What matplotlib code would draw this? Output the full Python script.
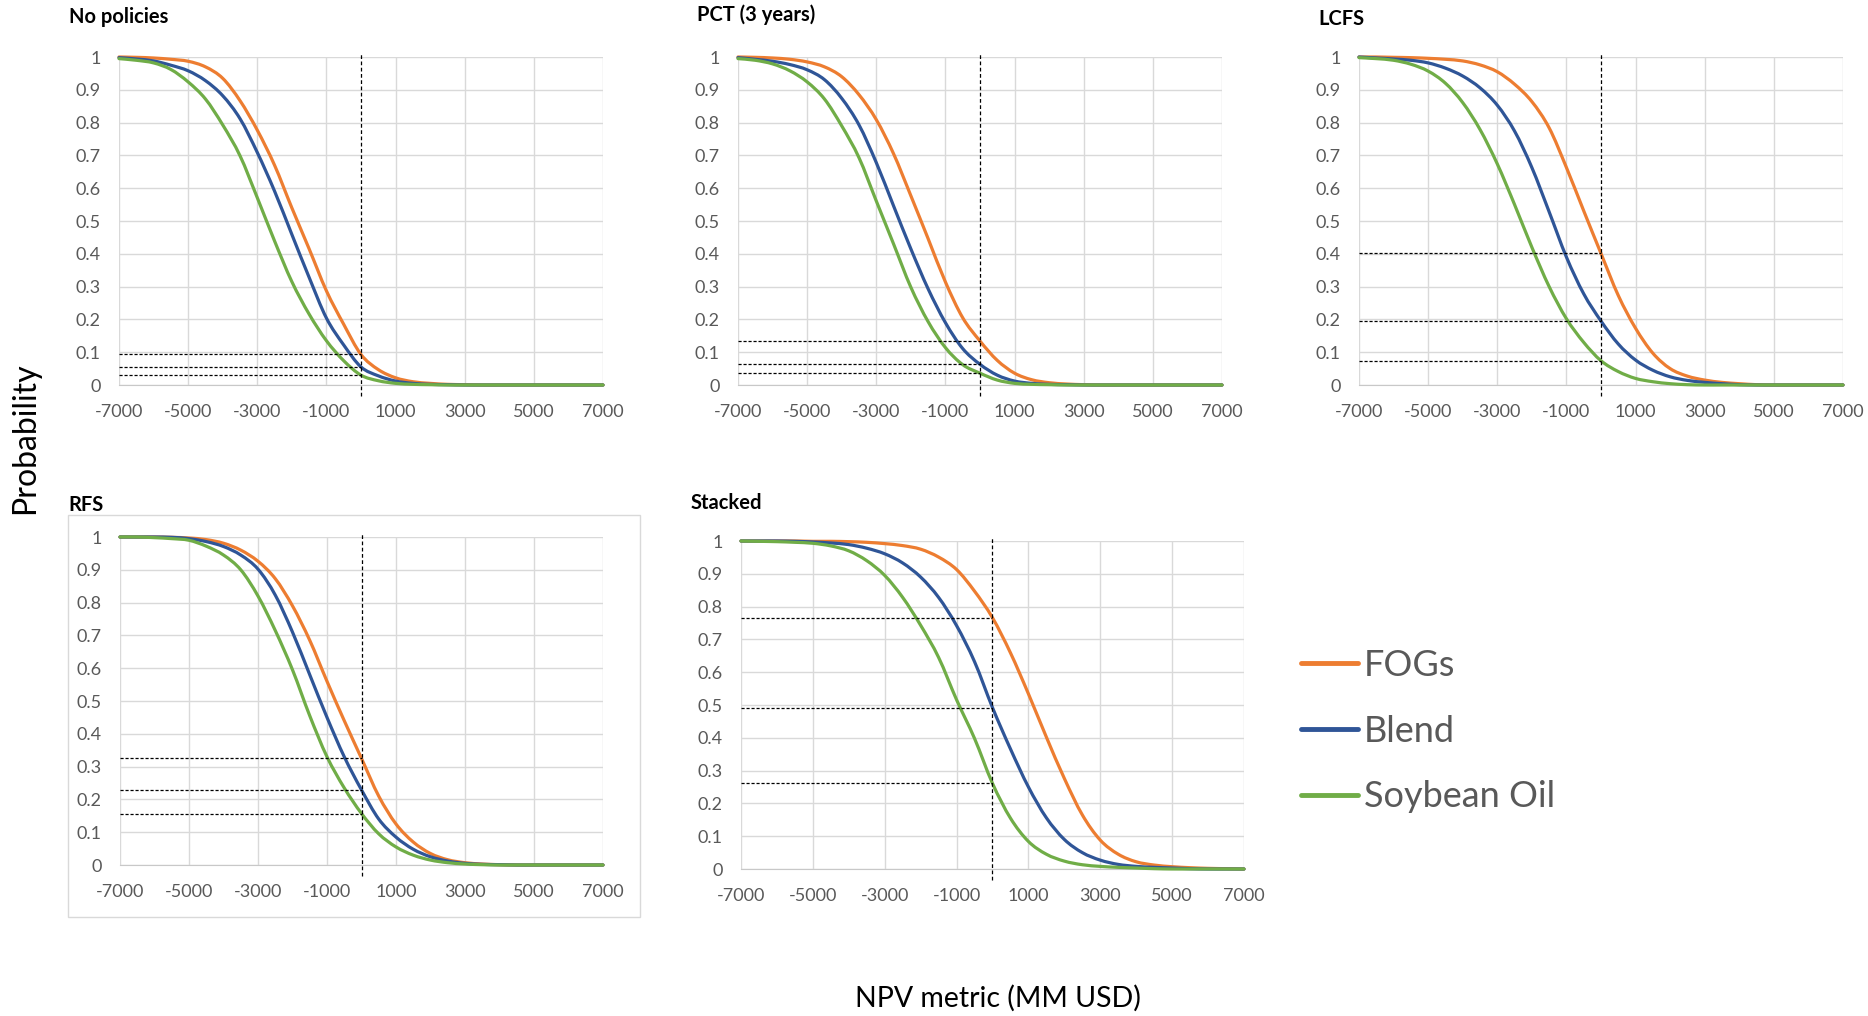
import numpy as np
import matplotlib
matplotlib.use("Agg")
import matplotlib.pyplot as plt
from matplotlib.patches import Rectangle, PathPatch
from matplotlib.path import Path

plt.rcParams['font.family'] = ['Lato', 'DejaVu Sans']

# NPV grid (MM USD) the curves were read at
npv = np.arange(-7000, 7001, 500)

series_names = ["FOGs", "Blend", "Soybean Oil"]
series_colors = ["#ED7D31", "#2F5597", "#70AD47"]

# No policies
nopol_fogs = [1.0, 0.999, 0.997, 0.993, 0.987, 0.97, 0.935, 0.867, 0.777, 0.67, 0.54, 0.415, 0.287, 0.185, 0.093,
              0.047, 0.022, 0.01, 0.005, 0.002, 0.001, 0, 0, 0, 0, 0, 0, 0, 0]
nopol_blend = [0.998, 0.994, 0.988, 0.975, 0.958, 0.928, 0.882, 0.812, 0.709, 0.591, 0.459, 0.328, 0.204, 0.122,
               0.055, 0.028, 0.012, 0.005, 0.002, 0.001, 0, 0, 0, 0, 0, 0, 0, 0, 0]
nopol_soy = [0.995, 0.99, 0.982, 0.962, 0.924, 0.872, 0.793, 0.699, 0.571, 0.439, 0.315, 0.216, 0.135, 0.074,
             0.03, 0.013, 0.005, 0.002, 0.001, 0, 0, 0, 0, 0, 0, 0, 0, 0, 0]

# PCT (3 years)
pct_fogs = [1.0, 0.999, 0.997, 0.993, 0.985, 0.97, 0.94, 0.885, 0.809, 0.705, 0.577, 0.446, 0.314, 0.205, 0.134,
            0.075, 0.036, 0.016, 0.007, 0.003, 0.001, 0, 0, 0, 0, 0, 0, 0, 0]
pct_blend = [0.998, 0.993, 0.987, 0.977, 0.961, 0.931, 0.874, 0.793, 0.678, 0.546, 0.415, 0.293, 0.19, 0.111,
             0.063, 0.03, 0.012, 0.005, 0.002, 0.001, 0, 0, 0, 0, 0, 0, 0, 0, 0]
pct_soy = [0.995, 0.99, 0.979, 0.958, 0.924, 0.872, 0.79, 0.693, 0.561, 0.43, 0.298, 0.193, 0.114, 0.062,
           0.036, 0.015, 0.005, 0.002, 0.001, 0, 0, 0, 0, 0, 0, 0, 0, 0, 0]

# LCFS
lcfs_fogs = [1.0, 1.0, 0.999, 0.998, 0.996, 0.993, 0.988, 0.976, 0.955, 0.917, 0.864, 0.784, 0.663, 0.531, 0.401,
             0.273, 0.173, 0.097, 0.05, 0.027, 0.015, 0.008, 0.004, 0.001, 0, 0, 0, 0, 0]
lcfs_blend = [1.0, 0.997, 0.994, 0.99, 0.982, 0.966, 0.942, 0.906, 0.853, 0.774, 0.663, 0.528, 0.39, 0.278, 0.195,
              0.125, 0.076, 0.045, 0.025, 0.014, 0.008, 0.004, 0.001, 0, 0, 0, 0, 0, 0]
lcfs_soy = [0.998, 0.995, 0.99, 0.978, 0.957, 0.92, 0.861, 0.779, 0.674, 0.55, 0.42, 0.3, 0.202, 0.13, 0.074,
            0.041, 0.02, 0.01, 0.004, 0.001, 0, 0, 0, 0, 0, 0, 0, 0, 0]

# RFS
rfs_fogs = [1.0, 1.0, 1.0, 0.999, 0.997, 0.992, 0.981, 0.96, 0.926, 0.873, 0.79, 0.685, 0.56, 0.44, 0.325,
            0.21, 0.125, 0.07, 0.035, 0.016, 0.007, 0.003, 0.001, 0, 0, 0, 0, 0, 0]
rfs_blend = [1.0, 1.0, 1.0, 0.999, 0.995, 0.986, 0.971, 0.945, 0.902, 0.823, 0.71, 0.58, 0.45, 0.33, 0.229,
             0.14, 0.085, 0.048, 0.025, 0.012, 0.005, 0.002, 0.001, 0, 0, 0, 0, 0, 0]
rfs_soy = [1.0, 1.0, 0.998, 0.995, 0.99, 0.972, 0.945, 0.9, 0.82, 0.715, 0.595, 0.455, 0.33, 0.235, 0.157,
           0.095, 0.055, 0.03, 0.015, 0.007, 0.003, 0.001, 0, 0, 0, 0, 0, 0, 0]

# Stacked
stack_fogs = [1.0, 1.0, 1.0, 1.0, 0.999, 0.999, 0.998, 0.996, 0.992, 0.986, 0.975, 0.951, 0.913, 0.847, 0.766,
              0.659, 0.534, 0.402, 0.276, 0.165, 0.088, 0.045, 0.022, 0.012, 0.007, 0.004, 0.002, 0.001, 0]
stack_blend = [1.0, 1.0, 1.0, 0.999, 0.997, 0.994, 0.989, 0.978, 0.961, 0.933, 0.89, 0.828, 0.742, 0.632, 0.492,
               0.366, 0.25, 0.156, 0.09, 0.05, 0.027, 0.014, 0.008, 0.005, 0.003, 0.001, 0, 0, 0]
stack_soy = [1.0, 0.999, 0.998, 0.996, 0.993, 0.985, 0.97, 0.94, 0.895, 0.828, 0.743, 0.645, 0.516, 0.398, 0.261,
             0.155, 0.084, 0.045, 0.024, 0.013, 0.008, 0.005, 0.003, 0.001, 0, 0, 0, 0, 0]

x_ticks = list(range(-7000, 7001, 2000))
y_ticks = [i / 10 for i in range(11)]

W, H = 1868, 1016
fig = plt.figure(figsize=(W / 100, H / 100), dpi=100)
fig.patch.set_facecolor("white")


def smooth_line(ax, xs, ys, color):
    # spreadsheet-style smoothed line (Bezier through the read points)
    pts = np.column_stack([xs, ys]).astype(float)
    verts = [pts[0]]
    codes = [Path.MOVETO]
    n = len(pts)
    for i in range(n - 1):
        p0 = pts[max(i - 1, 0)]
        p1 = pts[i]
        p2 = pts[i + 1]
        p3 = pts[min(i + 2, n - 1)]
        verts += [p1 + (p2 - p0) / 6, p2 - (p3 - p1) / 6, p2]
        codes += [Path.CURVE4] * 3
    patch = PathPatch(Path(verts, codes), fill=False, edgecolor=color, linewidth=2.3,
                      capstyle="round", clip_on=False, zorder=3)
    ax.add_patch(patch)


def add_panel(box, title, title_pos, curves):
    left, top, right, bottom = box
    ax = fig.add_axes([left / W, 1 - bottom / H, (right - left) / W, (bottom - top) / H])
    ax.set_xlim(-7000, 7000)
    ax.set_ylim(0, 1)

    ax.grid(True, color="#d9d9d9", linewidth=1)
    ax.set_axisbelow(True)
    for side in ["top", "right", "left"]:
        ax.spines[side].set_visible(False)
    ax.spines["bottom"].set_color("#c8c8c8")

    ax.set_xticks(x_ticks)
    ax.set_xticklabels([str(v) for v in x_ticks])
    ax.set_yticks(y_ticks)
    ax.set_yticklabels([f"{v:g}" for v in y_ticks])
    ax.tick_params(length=0, labelsize=13, labelcolor="#595959")
    ax.tick_params(axis="y", pad=13)
    ax.tick_params(axis="x", pad=14)

    zero_idx = list(npv).index(0)
    for values, color in zip(curves, series_colors):
        smooth_line(ax, npv, values, color)
        # dotted guide from the y axis to the value at NPV = 0
        ax.plot([-7000, 0], [values[zero_idx], values[zero_idx]], color="black",
                linewidth=0.9, dashes=(2.5, 1.5), zorder=4)

    ax.plot([0, 0], [-0.035, 1.01], color="black", linewidth=0.9, dashes=(3, 2),
            clip_on=False, zorder=4)

    fig.text(title_pos[0] / W, 1 - title_pos[1] / H, title, fontsize=14.5,
             fontweight="bold", va="center", ha="left")
    return ax


add_panel((119, 57, 603, 385), "No policies", (69, 17), [nopol_fogs, nopol_blend, nopol_soy])
add_panel((738, 57, 1222, 385), "PCT (3 years)", (697, 15), [pct_fogs, pct_blend, pct_soy])
add_panel((1359, 57, 1843, 385), "LCFS", (1318, 19), [lcfs_fogs, lcfs_blend, lcfs_soy])
add_panel((120, 537, 603, 865), "RFS", (68, 505), [rfs_fogs, rfs_blend, rfs_soy])
add_panel((741, 541, 1244, 869), "Stacked", (691, 503), [stack_fogs, stack_blend, stack_soy])

# light frame around the RFS chart
fig.patches.append(Rectangle((68 / W, 1 - 917 / H), (640 - 68) / W, (917 - 515) / H,
                             transform=fig.transFigure, fill=False,
                             edgecolor="#d9d9d9", linewidth=1))

# legend
handles = [plt.Line2D([], [], color=c, linewidth=3.5, solid_capstyle="round") for c in series_colors]
fig.legend(handles, series_names, loc="center left", bbox_to_anchor=(1268 / W, 1 - 731 / H),
           frameon=False, fontsize=26, handlelength=1.6, handletextpad=0.15,
           labelspacing=0.91, labelcolor="#595959")

fig.text(25 / W, 1 - 438 / H, "Probability", rotation=90, fontsize=23,
         va="center", ha="center")
fig.text(998 / W, 1 - 998 / H, "NPV metric (MM USD)", fontsize=20.5,
         va="center", ha="center")

fig.savefig("out.png", dpi=100)
